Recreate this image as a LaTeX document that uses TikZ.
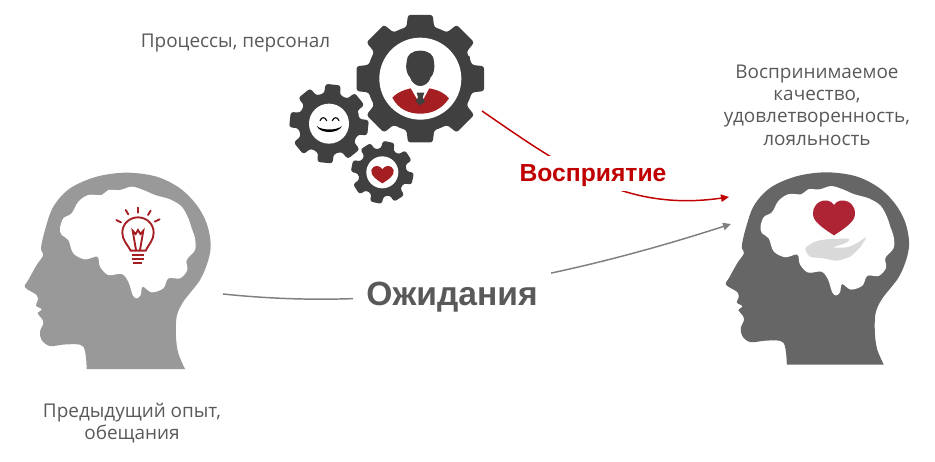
\documentclass[tikz,border=0pt]{standalone}
\usepackage{fontspec}
\setmainfont{Open Sans}
\newfontfamily\labelfont{Liberation Sans}
\usetikzlibrary{arrows.meta}

\definecolor{gearcol}{HTML}{404040}
\definecolor{wine}{HTML}{A51E22}
\definecolor{bigheart}{HTML}{AE2434}
\definecolor{arrowred}{HTML}{C00000}
\definecolor{arrowgray}{HTML}{7F7F7F}
\definecolor{textcol}{HTML}{595959}

\tikzset{
   caption/.style={align=center, text=textcol, font=\fontsize{14.2}{16.8}\selectfont, inner sep=0pt},
   keyword/.style={fill=white, inner ysep=0pt, inner xsep=10pt},
   link/.style={line width=1.1pt, -{Triangle[length=6pt,width=5.5pt]}},
   bulbline/.style={draw=wine, line width=1.4pt, line cap=round}
}

% head outline and brain, in units of a 3x crop
\newcommand{\headshape}{
   plot[smooth, tension=.55] coordinates {(260,627) (250,560) (200,553) (150,558) (125,540) (120,515)
      (130,490) (125,475) (113,460) (125,448) (108,437) (113,422) (110,405) (75,382) (85,360)
      (110,315) (130,285) (123,265) (135,210) (160,140) (210,85) (290,50) (380,38) (470,50)
      (540,85) (590,135) (620,190) (632,250) (625,300) (600,360) (550,425) (530,470) (528,530)
      (535,580) (555,627)} -- cycle
}
\newcommand{\brainshape}{
   plot[smooth cycle, tension=.55] coordinates {(180,205) (190,175) (215,160) (235,125) (265,105)
      (305,105) (325,90) (360,90) (395,80) (430,90) (465,105) (510,118) (545,140) (565,175)
      (575,205) (585,235) (585,270) (560,300) (562,330) (540,355) (505,355) (490,385) (455,397)
      (428,380) (422,405) (410,415) (398,405) (385,365) (365,342) (325,345) (300,320) (292,290)
      (255,298) (220,280) (205,240) (185,225)}
}
% cx, cy, outer radius, body radius, hole radius, rotation
\newcommand{\gearwheel}[6]{
   \begin{scope}[shift={(#1,#2)}]
      \fill[gearcol, rounded corners=2pt] (#6-22.5:#4)
      \foreach \a in {0,45,...,315} {
         -- (\a+#6-15:#4) -- (\a+#6-11:#3) -- (\a+#6+11:#3) -- (\a+#6+15:#4) -- (\a+#6+22.5:#4)
      } -- cycle;
      \fill[white] (0,0) circle (#5);
   \end{scope}
}

\begin{document}
\begin{tikzpicture}[x=.75pt, y=-.75pt]
   \useasboundingbox (0,0) rectangle (935,461);

   % connectors
   \coordinate (gearout) at (482,111);
   \coordinate (headred) at (729,197);
   \coordinate (headold) at (223,294);
   \coordinate (headgray) at (731,224);

   \draw[link, arrowgray] (headold) .. controls (330,305) and (480,305) .. (headgray);
   \draw[link, arrowred] (gearout) .. controls (565,168) and (625,212) .. (headred);

   \node[keyword, text height=19.3pt, text depth=7pt, text=arrowred, font=\labelfont\bfseries\fontsize{18.5}{20}\selectfont] (perception) at (593,173.5) {Восприятие};
   \node[keyword, minimum height=42pt, text=textcol, font=\labelfont\bfseries\fontsize{25.2}{28}\selectfont] (expectation) at (452,297) {Ожидания};

   % left head
   \begin{scope}[shift={(0,160)}, x=.25pt, y=-.25pt]
      \fill[black!40] \headshape;
      \fill[white] \brainshape;
      \draw[bulbline] (392,272) .. controls (380,250) and (367,240) .. (367,218)
         .. controls (367,190) and (390,172) .. (414,172)
         .. controls (438,172) and (461,190) .. (461,218)
         .. controls (461,240) and (448,250) .. (437,272) -- cycle;
      \draw[bulbline] (408,270) -- (398,212) -- (407,222) -- (414,210) -- (421,222) -- (430,212) -- (420,270);
      \foreach \ya/\xa/\xb in {284/395/433, 296/396/432, 308/400/426}
         \draw[bulbline, line cap=butt] (\xa,\ya) -- (\xb,\ya);
      \foreach \xa/\ya/\xb/\yb in {414/143/414/158, 377/150/385/163, 452/152/444/165, 349/180/363/187, 479/178/464/185}
         \draw[bulbline] (\xa,\ya) -- (\xb,\yb);
   \end{scope}

   % right head
   \begin{scope}[shift={(701.35,159.9)}, x=.2465pt, y=-.245pt]
      \fill[black!60] \headshape;
      \fill[white] \brainshape;
   \end{scope}
   \begin{scope}[shift={(700,160)}, x=.25pt, y=-.25pt]
      \fill[black!15] plot[smooth cycle, tension=.4] coordinates {(316,265) (345,245) (380,238) (445,236)
         (440,248) (400,262) (440,262) (470,250) (498,232) (480,262) (450,290) (410,302) (370,295) (330,290)};
      \fill[bigheart] (402,135) .. controls (392,120) and (375,118) .. (360,125)
         .. controls (340,135) and (332,160) .. (345,180)
         .. controls (358,198) and (385,215) .. (402,226)
         .. controls (419,215) and (446,198) .. (459,180)
         .. controls (472,160) and (464,135) .. (444,125)
         .. controls (429,118) and (412,120) .. (402,135) -- cycle;
   \end{scope}

   % gears
   \begin{scope}[shift={(270,0)}, x=.25pt, y=-.25pt]
      \gearwheel{451}{236}{195}{160}{123}{0}
      \gearwheel{177}{371}{120}{92}{60}{6}
      \gearwheel{337}{517}{95}{72}{48}{12}

      % person
      \fill[gearcol] (451,152) .. controls (425,152) and (410,165) .. (410,185)
         .. controls (405,205) and (412,225) .. (420,232)
         .. controls (425,250) and (440,258) .. (451,258)
         .. controls (462,258) and (477,250) .. (482,232)
         .. controls (490,225) and (496,205) .. (492,185)
         .. controls (492,165) and (477,152) .. (451,152) -- cycle;
      \fill[wine] (367,293) .. controls (380,278) and (400,270) .. (422,265) -- (451,315) -- (478,265)
         .. controls (505,270) and (525,280) .. (537,295)
         .. controls (515,328) and (485,341) .. (451,341)
         .. controls (417,341) and (385,328) .. (367,293) -- cycle;
      \fill[gearcol] (440,278) -- (463,278) -- (458,292) -- (465,305) -- (451,316) -- (437,305) -- (444,292) -- cycle;

      % face
      \draw[black, line width=.8pt, line cap=round] (150,362) .. controls (155,350) and (165,350) .. (170,362);
      \draw[black, line width=.8pt, line cap=round] (187,362) .. controls (192,350) and (202,350) .. (207,362);
      \fill[black] (140,378) .. controls (155,392) and (200,392) .. (216,378)
         .. controls (205,402) and (150,402) .. (140,378) -- cycle;

      % small heart
      \fill[wine] (337,508) .. controls (330,495) and (310,493) .. (304,510)
         .. controls (300,528) and (325,542) .. (337,550)
         .. controls (349,542) and (376,528) .. (371,510)
         .. controls (365,493) and (344,495) .. (337,508) -- cycle;
   \end{scope}

   % captions
   \node[caption] (staff) at (235.5,43) {Процессы, персонал};
   \node[caption] (quality) at (817,105) {Воспринимаемое\\качество,\\удовлетворенность,\\лояльность};
   \node[caption] (history) at (132,423) {Предыдущий опыт,\\обещания};
\end{tikzpicture}
\end{document}
